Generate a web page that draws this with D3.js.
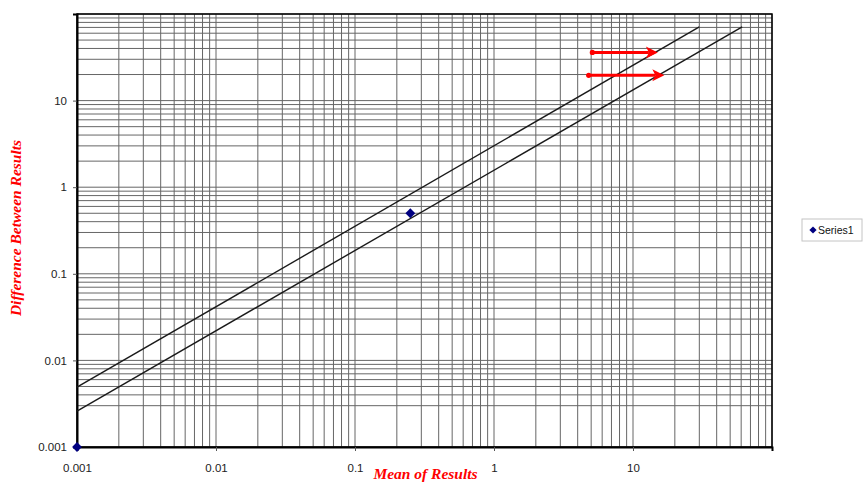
<!DOCTYPE html>
<html>
<head>
<meta charset="utf-8">
<script src="https://cdn.jsdelivr.net/npm/d3@7"></script>
<style>
  html, body { margin: 0; padding: 0; background: #fff; }
  svg { display: block; }
</style>
</head>
<body>
<svg id="chart" width="864" height="482"></svg>
<script>
// Labelled decades on both log axes
const xTickValues = [0.001, 0.01, 0.1, 1, 10];
const xTickLabels = ["0.001", "0.01", "0.1", "1", "10"];
const yTickValues = [0.001, 0.01, 0.1, 1, 10];
const yTickLabels = ["0.001", "0.01", "0.1", "1", "10"];

// Measured points (Series1)
const seriesName = "Series1";
const series1X = [0.001, 0.25];
const series1Y = [0.001, 0.5];

// Two limit lines (end points)
const upperLimitX = [0.001, 30];
const upperLimitY = [0.0049, 71];
const lowerLimitX = [0.001, 61];
const lowerLimitY = [0.0026, 71];

// Red arrow annotations
const arrowStartX = [5.1, 4.8];
const arrowEndX = [15.1, 16.8];
const arrowY = [36, 19.6];

const svg = d3.select("#chart");
const plotLeft = 77, plotRight = 772, plotTop = 14, plotBottom = 447;

const x = d3.scaleLog().domain([0.001, 100]).range([plotLeft, plotRight]);
const y = d3.scaleLog().domain([0.001, 100]).range([plotBottom, plotTop]);

// Minor and major grid values per decade
const gridX = [];
const gridY = [];
for (let e = -3; e <= 1; e++) {
  for (let m = 1; m <= 9; m++) {
    const v = m * Math.pow(10, e);
    gridX.push(v);
    if (!(e === -3 && m === 2)) gridY.push(v);
  }
}
gridX.push(100); gridY.push(100);

const grid = svg.append("g").attr("stroke", "#666").attr("stroke-width", 1);
grid.selectAll("line.gx").data(gridX).join("line")
  .attr("x1", d => x(d)).attr("x2", d => x(d))
  .attr("y1", plotTop).attr("y2", plotBottom);
grid.selectAll("line.gy").data(gridY).join("line")
  .attr("y1", d => y(d)).attr("y2", d => y(d))
  .attr("x1", plotLeft).attr("x2", plotRight);

// Plot frame
svg.append("rect")
  .attr("x", plotLeft).attr("y", plotTop)
  .attr("width", plotRight - plotLeft).attr("height", plotBottom - plotTop)
  .attr("fill", "none").attr("stroke", "#000").attr("stroke-width", 1.5);

// Axes
const xAxis = d3.axisBottom(x).tickValues(xTickValues)
  .tickFormat((d, i) => xTickLabels[i]).tickSize(4).tickPadding(13);
const yAxis = d3.axisLeft(y).tickValues(yTickValues)
  .tickFormat((d, i) => yTickLabels[i]).tickSize(4).tickPadding(6);

const gx = svg.append("g").attr("transform", `translate(0,${plotBottom})`).call(xAxis);
const gy = svg.append("g").attr("transform", `translate(${plotLeft},0)`).call(yAxis);
[gx, gy].forEach(g => {
  g.select(".domain").attr("stroke", "#000").attr("stroke-width", 2);
  g.selectAll(".tick line").attr("stroke", "#555");
  g.selectAll(".tick text")
    .attr("font-family", "Liberation Sans, Arial, sans-serif")
    .attr("font-size", 11.5).attr("fill", "#222");
});

// Limit lines
const line = d3.line().x(d => x(d[0])).y(d => y(d[1]));
[[upperLimitX, upperLimitY], [lowerLimitX, lowerLimitY]].forEach(([xs, ys]) => {
  svg.append("path")
    .datum(xs.map((v, i) => [v, ys[i]]))
    .attr("d", line)
    .attr("fill", "none").attr("stroke", "#1a1a1a").attr("stroke-width", 1.4);
});

// Arrows
const arrows = arrowY.map((v, i) => ({ x0: arrowStartX[i], x1: arrowEndX[i], y: v }));
const ag = svg.append("g");
arrows.forEach(a => {
  const px0 = x(a.x0), px1 = x(a.x1), py = y(a.y);
  ag.append("line")
    .attr("x1", px0).attr("x2", px1 - 9).attr("y1", py).attr("y2", py)
    .attr("stroke", "#ff0000").attr("stroke-width", 3);
  ag.append("circle").attr("cx", px0).attr("cy", py).attr("r", 2.6).attr("fill", "#ff0000");
  ag.append("path")
    .attr("d", `M${px1},${py} L${px1 - 12},${py - 6} L${px1 - 9},${py} L${px1 - 12},${py + 6} Z`)
    .attr("fill", "#ff0000");
});

// Series markers (diamonds)
const diamond = d3.symbol().type(d3.symbolSquare).size(48);
svg.append("g").selectAll("path")
  .data(series1X.map((v, i) => [v, series1Y[i]]))
  .join("path")
  .attr("d", diamond)
  .attr("transform", d => `translate(${x(d[0])},${y(d[1])}) rotate(45)`)
  .attr("fill", "#000080");

// Axis titles
svg.append("text")
  .attr("x", (plotLeft + plotRight) / 2 + 1).attr("y", 479)
  .attr("text-anchor", "middle")
  .attr("font-family", "Liberation Serif, Times New Roman, serif")
  .attr("font-style", "italic").attr("font-weight", "bold")
  .attr("font-size", 15.5).attr("fill", "#ff0000")
  .text("Mean of Results");

svg.append("text")
  .attr("transform", `translate(21,228) rotate(-90)`)
  .attr("text-anchor", "middle")
  .attr("font-family", "Liberation Serif, Times New Roman, serif")
  .attr("font-style", "italic").attr("font-weight", "bold")
  .attr("font-size", 15.5).attr("fill", "#ff0000")
  .text("Difference Between Results");

// Legend
const lg = svg.append("g").attr("transform", "translate(802,219)");
lg.append("rect").attr("width", 60).attr("height", 22)
  .attr("fill", "#fff").attr("stroke", "#c4c4c4").attr("stroke-width", 1);
lg.append("path").attr("d", d3.symbol().type(d3.symbolSquare).size(26)())
  .attr("transform", "translate(11,11) rotate(45)").attr("fill", "#000080");
lg.append("text").attr("x", 16).attr("y", 15)
  .attr("font-family", "Liberation Sans, Arial, sans-serif")
  .attr("font-size", 10.5).attr("fill", "#111")
  .text(seriesName);
</script>
</body>
</html>
